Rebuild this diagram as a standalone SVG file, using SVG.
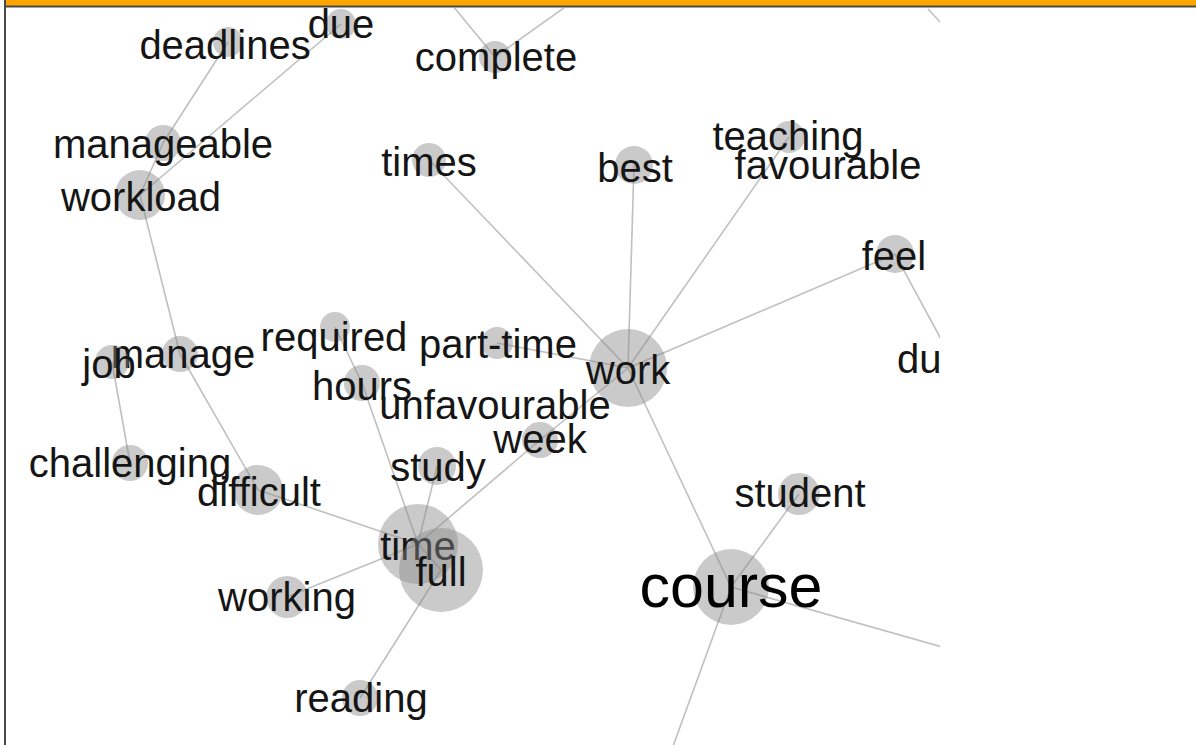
<svg xmlns="http://www.w3.org/2000/svg" width="1196" height="745" viewBox="0 0 1196 745">
<style>
.n circle{fill:#8a8a8a;fill-opacity:0.45}
.n text{font-family:"Liberation Sans",Arial,sans-serif;font-size:40px;fill:#151515;text-anchor:middle}
.n text.big{font-size:61px;fill:#000}
#edges line{stroke:#c0c0c0;stroke-width:1.6}
</style>
<defs>
<clipPath id="plot"><rect x="6" y="8" width="934" height="737"/></clipPath>
</defs>
<rect x="0" y="0" width="1196" height="745" fill="#fff"/>
<g clip-path="url(#plot)">
<g id="edges">
<line x1="495" y1="57" x2="448" y2="0"/>
<line x1="495" y1="57" x2="575" y2="0"/>
<line x1="928" y1="9" x2="942" y2="24"/>
<line x1="228" y1="42" x2="163" y2="143"/>
<line x1="163" y1="143" x2="140" y2="195"/>
<line x1="341" y1="24" x2="140" y2="195"/>
<line x1="140" y1="195" x2="180" y2="354"/>
<line x1="180" y1="354" x2="258" y2="490"/>
<line x1="112" y1="362" x2="130" y2="463"/>
<line x1="258" y1="490" x2="418" y2="544"/>
<line x1="287" y1="597" x2="418" y2="544"/>
<line x1="335" y1="327" x2="362" y2="383"/>
<line x1="362" y1="383" x2="418" y2="544"/>
<line x1="437" y1="466" x2="418" y2="544"/>
<line x1="418" y1="544" x2="540" y2="440"/>
<line x1="540" y1="440" x2="628" y2="368"/>
<line x1="418" y1="544" x2="441" y2="570"/>
<line x1="441" y1="570" x2="360" y2="698"/>
<line x1="429" y1="160" x2="628" y2="368"/>
<line x1="634" y1="165" x2="628" y2="368"/>
<line x1="789" y1="137" x2="628" y2="368"/>
<line x1="895" y1="254" x2="628" y2="368"/>
<line x1="895" y1="254" x2="955" y2="365"/>
<line x1="497" y1="343" x2="628" y2="368"/>
<line x1="628" y1="368" x2="731" y2="587"/>
<line x1="799" y1="494" x2="731" y2="587"/>
<line x1="731" y1="587" x2="960" y2="652"/>
<line x1="731" y1="587" x2="668" y2="760"/>
</g>
<g id="node-deadlines" class="n"><circle cx="228" cy="42" r="15"/><text x="225" y="59">deadlines</text></g>
<g id="node-due" class="n"><circle cx="341" cy="24" r="15"/><text x="341" y="38">due</text></g>
<g id="node-complete" class="n"><circle cx="495" cy="57" r="16"/><text x="496" y="71">complete</text></g>
<g id="node-manageable" class="n"><circle cx="163" cy="143" r="18"/><text x="163" y="158">manageable</text></g>
<g id="node-workload" class="n"><circle cx="140" cy="195" r="25"/><text x="141" y="211">workload</text></g>
<g id="node-times" class="n"><circle cx="429" cy="160" r="17"/><text x="429" y="176">times</text></g>
<g id="node-best" class="n"><circle cx="634" cy="165" r="19"/><text x="635" y="182">best</text></g>
<g id="node-teaching" class="n"><circle cx="789" cy="137" r="16"/><text x="788" y="150">teaching</text></g>
<g id="node-favourable" class="n"><text x="828" y="179">favourable</text></g>
<g id="node-feel" class="n"><circle cx="895" cy="254" r="19"/><text x="894" y="270">feel</text></g>
<g id="node-du" class="n"><text x="897" y="373" style="text-anchor:start">du</text></g>
<g id="node-part-time" class="n"><circle cx="497" cy="343" r="16"/><text x="498" y="358">part-time</text></g>
<g id="node-required" class="n"><circle cx="335" cy="327" r="15"/><text x="334" y="351">required</text></g>
<g id="node-work" class="n"><circle cx="628" cy="368" r="39"/><text x="628" y="384">work</text></g>
<g id="node-hours" class="n"><circle cx="362" cy="383" r="18"/><text x="362" y="400">hours</text></g>
<g id="node-unfavourable" class="n"><text x="495" y="419">unfavourable</text></g>
<g id="node-week" class="n"><circle cx="540" cy="440" r="18"/><text x="540" y="453">week</text></g>
<g id="node-manage" class="n"><circle cx="180" cy="354" r="18"/><text x="183" y="368">manage</text></g>
<g id="node-job" class="n"><circle cx="112" cy="362" r="17"/><text x="109" y="378">job</text></g>
<g id="node-study" class="n"><circle cx="437" cy="466" r="19"/><text x="438" y="481">study</text></g>
<g id="node-challenging" class="n"><circle cx="130" cy="463" r="18"/><text x="130" y="477">challenging</text></g>
<g id="node-difficult" class="n"><circle cx="258" cy="490" r="25"/><text x="259" y="506">difficult</text></g>
<g id="node-student" class="n"><circle cx="799" cy="494" r="21"/><text x="800" y="507">student</text></g>
<g id="node-time" class="n"><circle cx="418" cy="544" r="40"/><text x="418" y="560">time</text></g>
<g id="node-full" class="n"><circle cx="441" cy="570" r="42"/><text x="441" y="586">full</text></g>
<g id="node-working" class="n"><circle cx="287" cy="597" r="21"/><text x="287" y="611">working</text></g>
<g id="node-course" class="n"><circle cx="731" cy="587" r="38"/><text class="big" x="731" y="607">course</text></g>
<g id="node-reading" class="n"><circle cx="360" cy="698" r="18"/><text x="361" y="712">reading</text></g>
</g>
<rect x="6" y="0" width="1190" height="6" fill="#ffa500"/>
<rect x="4" y="5.5" width="1192" height="2" fill="#4a4a4a"/>
<rect x="4" y="0" width="2" height="745" fill="#4a4a4a"/>
</svg>
